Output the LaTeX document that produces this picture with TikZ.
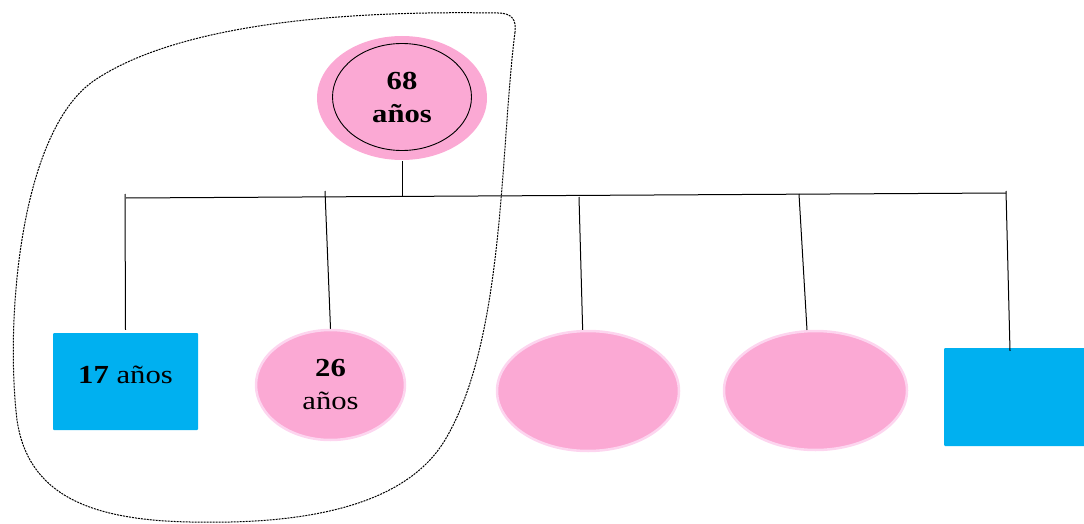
\documentclass[tikz,border=0pt]{standalone}
\usepackage{fontspec}
\setmainfont{Liberation Serif}[FakeStretch=1.18]
\usetikzlibrary{shapes.geometric}
\definecolor{rosa}{HTML}{FBA9D4}
\definecolor{rosaclaro}{HTML}{FDD5EF}
\definecolor{celeste}{HTML}{00B0F0}

\begin{document}
\begin{tikzpicture}[x=1pt,y=-1pt,
    mujer/.style={ellipse,fill=rosa,draw=rosaclaro,line width=2.5pt,inner sep=0pt,align=center},
    hombre/.style={rectangle,fill=celeste,inner sep=0pt,rounded corners=1pt,
        text height=18pt,text depth=14pt},
    linea/.style={line width=1pt,black}]
    \tikzstyle{texto}=[font=\fontsize{26}{33}\selectfont]
    \useasboundingbox (0,0) rectangle (1084,524);

    % abuela
    \node[mujer, draw=none, minimum width=170pt, minimum height=124pt] (abuela) at (402,98) {};
    \node[ellipse, draw, line width=0.9pt, minimum width=139pt, minimum height=107pt,
        texto, align=center, inner sep=0pt] (anillo) at (402,97) {\textbf{68}\\\textbf{años}};

    % hijos
    \node[hombre, minimum width=145pt, minimum height=97pt, texto] (hijo) at (125.5,381.5) {\textbf{17} años};
    \node[mujer, minimum width=149pt, minimum height=110pt, texto] (hija) at (330.5,385) {\textbf{26}\\años};
    \node[mujer, minimum width=182pt, minimum height=120pt] (hija2) at (588,391) {};
    \node[mujer, minimum width=183pt, minimum height=119pt] (hija3) at (815.5,390.5) {};
    \node[hombre, minimum width=142pt, minimum height=98pt] (hijo2) at (1015,397) {};

    % barra horizontal
    \coordinate (izq) at (126,198);
    \coordinate (der) at (1006,193);
    \coordinate (medio) at (402,196.5);
    \coordinate (t1) at (125,194);
    \coordinate (t2) at (325,191);
    \coordinate (t3) at (579,197);
    \coordinate (t4) at (799,194);
    \coordinate (t5) at (1006,191);

    \draw[linea] (abuela.south) -- (medio);
    \draw[linea] (izq) -- (der);
    \draw[linea] (t1) -- ([yshift=3pt]hijo.north);
    \draw[linea] (t2) -- (hija.north);
    \draw[linea] (t3) -- (hija2.95);
    \draw[linea] (t4) -- (hija3.98);
    \draw[linea] (t5) -- ([xshift=-5pt,yshift=-3pt]hijo2.north);

    % grupo del hogar
    \draw[line width=1pt, dash pattern=on 2pt off 1pt]
        (515,32) .. controls (500,150) and (505,340) .. (445,440)
        .. controls (400,515) and (280,524) .. (190,522)
        .. controls (90,520) and (28,495) .. (17,420)
        .. controls (5,320) and (20,130) .. (95,80)
        .. controls (200,10) and (420,12) .. (498,13)
        .. controls (512,13) and (516.5,20) .. (515,32);
\end{tikzpicture}
\end{document}
